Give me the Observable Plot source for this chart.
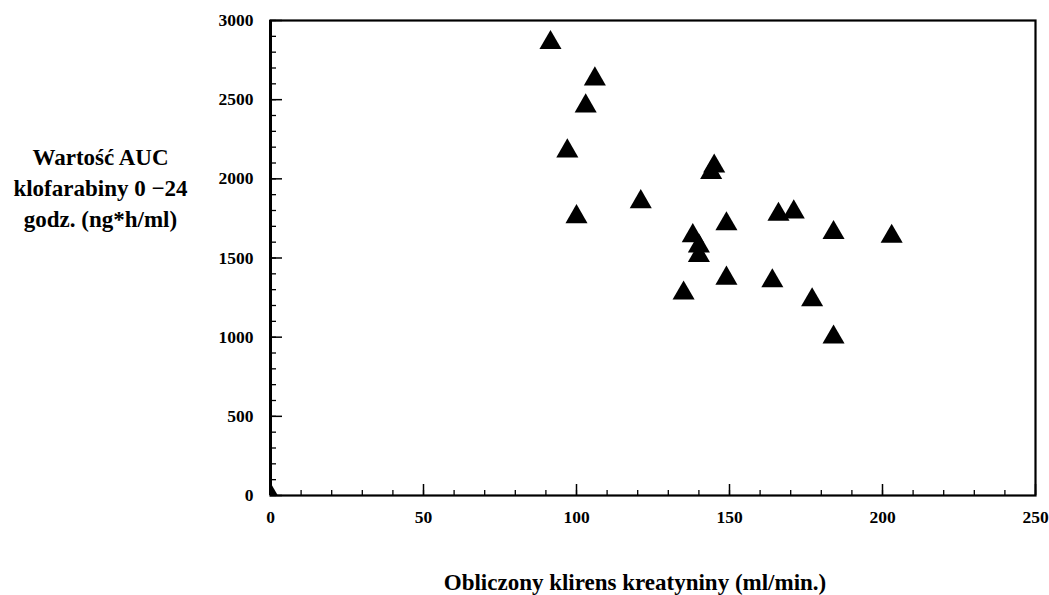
<!DOCTYPE html>
<html>
<head>
<meta charset="utf-8">
<script src="https://cdn.jsdelivr.net/npm/d3@7"></script>
<script src="https://cdn.jsdelivr.net/npm/@observablehq/plot@0.6"></script>
<style>
  html, body { margin: 0; padding: 0; background: #fff; }
  #chart svg { display: block; }
</style>
</head>
<body>
<div id="chart"></div>
<script>
// Data
const clearance = [91.5, 106, 103, 97, 145, 144, 100, 121, 149, 166, 171, 184, 138, 140, 140, 149, 164, 135, 177, 184, 203, 0];
const auc = [2860, 2630, 2460, 2175, 2080, 2040, 1760, 1855, 1715, 1775, 1790, 1660, 1640, 1575, 1515, 1372, 1355, 1278, 1235, 1000, 1636, 0];

const xMajor = [0, 50, 100, 150, 200, 250];
const yMajor = [0, 500, 1000, 1500, 2000, 2500, 3000];
const xMinor = d3.range(0, 251, 10);
const yMinor = d3.range(0, 3001, 100);

const xTitle = "Obliczony klirens kreatyniny (ml/min.)";
const yTitle = "Wartość AUC\nklofarabiny 0 \u221224\ngodz. (ng*h/ml)";

const points = clearance.map((c, i) => ({x: c, y: auc[i]}));

const font = "'Liberation Serif', 'Times New Roman', serif";

const chart = Plot.plot({
  width: 1049,
  height: 595,
  marginLeft: 270,
  marginRight: 14,
  marginTop: 20,
  marginBottom: 100,
  style: {fontFamily: font, background: "#fff", color: "#000"},
  x: {domain: [0, 250]},
  y: {domain: [0, 3000]},
  marks: [
    // minor ticks (inward)
    Plot.axisX(xMinor, {tickSize: -5, text: null, label: null, strokeWidth: 1.3}),
    Plot.axisY(yMinor, {tickSize: -6, text: null, label: null, strokeWidth: 1.3}),
    // major ticks (inward)
    Plot.axisX(xMajor, {tickSize: -11, text: null, label: null, strokeWidth: 1.5}),
    Plot.axisY(yMajor, {tickSize: -12, text: null, label: null, strokeWidth: 1.5}),
    // tick labels
    Plot.axisX(xMajor, {tickSize: 0, tickPadding: 15, label: null, fontSize: 17.5, fontWeight: "bold", tickFormat: d => String(d)}),
    Plot.axisY(yMajor, {tickSize: 0, tickPadding: 17, label: null, fontSize: 17.5, fontWeight: "bold", tickFormat: d => String(d)}),
    Plot.frame({stroke: "#000", strokeWidth: 2.2}),
    Plot.ruleX([0], {stroke: "#000", strokeWidth: 3}),
    Plot.dot(points, {x: "x", y: "y", symbol: "triangle", r: 8.2, fill: "#000", stroke: "none", clip: true}),
    // titles
    Plot.text([yTitle], {frameAnchor: "left", dx: -170, dy: -72, textAnchor: "middle", lineAnchor: "middle",
      fontSize: 23, fontWeight: "bold", lineHeight: 1.35, fill: "#000"}),
    Plot.text([xTitle], {frameAnchor: "bottom", dx: -18, dy: 87, textAnchor: "middle", lineAnchor: "middle",
      fontSize: 23, fontWeight: "bold", fill: "#000"})
  ]
});
document.getElementById("chart").appendChild(chart);
</script>
</body>
</html>
